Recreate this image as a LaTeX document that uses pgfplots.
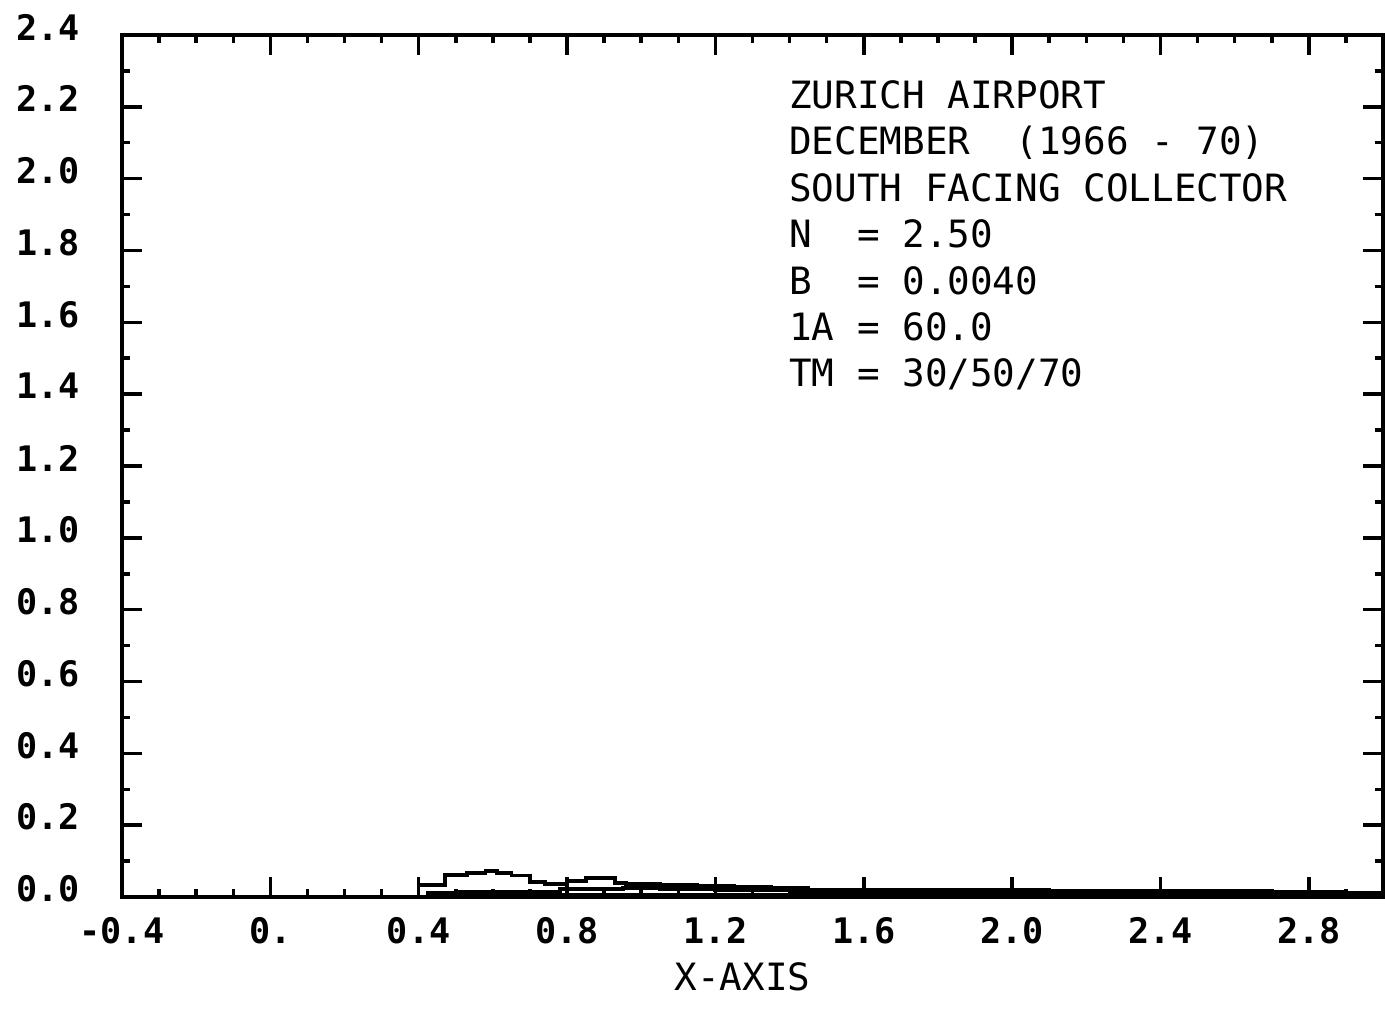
\documentclass[border=0pt]{standalone}
\usepackage{pgfplots}
\pgfplotsset{compat=1.18}
\usepackage{fontspec}
\setmainfont{DejaVu Sans Mono}
\begin{document}
\begin{tikzpicture}
\begin{axis}[
  scale only axis,
  width=126.1mm, height=86.2mm,
  xmin=-0.4, xmax=3.0, ymin=0, ymax=2.4,
  axis line style={line width=1.1pt},
  xtick={-0.4,0,0.4,0.8,1.2,1.6,2.0,2.4,2.8},
  xticklabels={-0.4,0.,0.4,0.8,1.2,1.6,2.0,2.4,2.8},
  minor xtick={-0.3,-0.2,-0.1,0.1,0.2,0.3,0.5,0.6,0.7,0.9,1.0,1.1,1.3,1.4,1.5,1.7,1.8,1.9,2.1,2.2,2.3,2.5,2.6,2.7,2.9},
  ytick={0,0.2,0.4,0.6,0.8,1.0,1.2,1.4,1.6,1.8,2.0,2.2,2.4},
  yticklabels={0.0,0.2,0.4,0.6,0.8,1.0,1.2,1.4,1.6,1.8,2.0,2.2,2.4},
  minor ytick={0.1,0.3,0.5,0.7,0.9,1.1,1.3,1.5,1.7,1.9,2.1,2.3},
  tick align=inside,
  major tick length=2mm, minor tick length=0.8mm,
  every tick/.style={line width=1pt, black},
  ticklabel style={font=\bfseries\fontsize{10}{12}\selectfont},
  yticklabel style={xshift=-3mm, yshift=0.8mm},
  xticklabel style={yshift=-0.8mm},
  xlabel={X-AXIS},
  xlabel style={font=\fontsize{10.7}{12}\selectfont, yshift=0.6mm, xshift=-1mm},
  clip=false,
]
\addplot[const plot, line width=1.1pt, black] coordinates {
(0.40,0.033) (0.47,0.061) (0.53,0.067) (0.58,0.072) (0.61,0.068) (0.65,0.060)
(0.70,0.042) (0.74,0.036) (0.80,0.044) (0.85,0.052) (0.93,0.040) (0.96,0.036)
(1.05,0.034) (1.15,0.030) (1.25,0.028) (1.35,0.024) (1.45,0.021) (1.55,0.020)
(1.70,0.020) (1.90,0.019) (2.10,0.018) (2.30,0.017) (2.50,0.016) (2.70,0.014)
(2.90,0.012) (3.0,0.012)};
\addplot[const plot, line width=1.1pt, black] coordinates {
(0.42,0.012) (0.50,0.013) (0.70,0.014) (0.78,0.022) (0.95,0.024) (1.05,0.022)
(1.20,0.020) (1.40,0.017) (1.60,0.015) (1.80,0.013) (2.00,0.012) (2.40,0.010)
(2.80,0.008) (3.0,0.008)};
\addplot[const plot, line width=1.1pt, black] coordinates {
(0.45,0.004) (0.70,0.005) (1.00,0.006) (1.50,0.005) (2.00,0.004) (2.50,0.003)
(3.0,0.003)};
\node[anchor=north west, align=left, inner sep=0pt,
      font=\fontsize{10.7}{13.2}\selectfont]
  at (axis cs:1.397,2.275) {%
ZURICH AIRPORT\\
DECEMBER~~(1966 - 70)\\
SOUTH FACING COLLECTOR\\
N~~= 2.50\\
B~~= 0.0040\\
1A = 60.0\\
TM = 30/50/70};
\coordinate (sw) at (rel axis cs:0,0);
\coordinate (ne) at (rel axis cs:1,1);
\end{axis}
\pgfresetboundingbox
\path[use as bounding box] ([shift={(-12.2mm,-11.4mm)}]sw) rectangle ([shift={(0.2mm,3.5mm)}]ne);
\end{tikzpicture}
\end{document}
